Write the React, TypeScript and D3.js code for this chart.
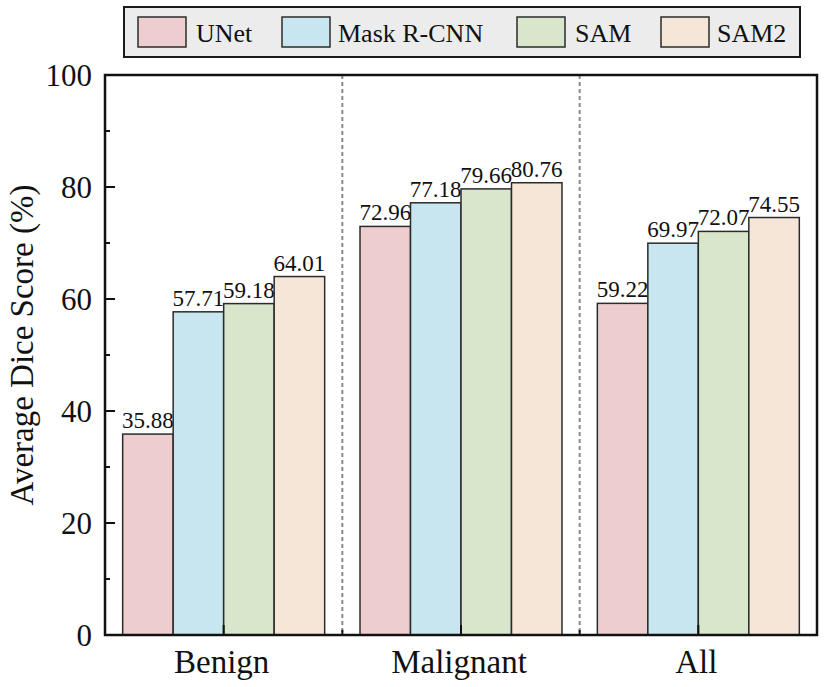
import React from 'react';
import * as d3 from 'd3';

const categories = ['Benign', 'Malignant', 'All'];
const seriesNames = ['UNet', 'Mask R-CNN', 'SAM', 'SAM2'];
const unetValues = [35.88, 72.96, 59.22];
const maskRcnnValues = [57.71, 77.18, 69.97];
const samValues = [59.18, 79.66, 72.07];
const sam2Values = [64.01, 80.76, 74.55];
const yTicks = [0, 20, 40, 60, 80, 100];
const yMinorTicks = [10, 30, 50, 70, 90];

const seriesValues = [unetValues, maskRcnnValues, samValues, sam2Values];
const colors = ['#EECDCE', '#C7E6EF', '#D8E6CC', '#F6E6D7'];

const FONT = "'Liberation Serif', 'Times New Roman', serif";

const App: React.FC = () => {
  const width = 830;
  const height = 687;
  const left = 105;
  const right = 817;
  const top = 75;
  const bottom = 635;

  const x0 = d3.scaleBand<string>().domain(categories).range([left, right]);
  const x1 = d3
    .scaleBand<string>()
    .domain(seriesNames)
    .range([0, x0.bandwidth()])
    .paddingOuter(0.35);
  const y = d3.scaleLinear().domain([0, 100]).range([bottom, top]);

  // legend layout
  const legendItems = [
    { swatch: 138, text: 196 },
    { swatch: 282, text: 338 },
    { swatch: 517, text: 575 },
    { swatch: 661, text: 717 },
  ];

  return (
    <svg
      width={width}
      height={height}
      style={{ position: 'absolute', left: 0, top: 0, background: '#fff', fontFamily: FONT }}
    >
      {/* dividers */}
      {categories.slice(1).map((c) => (
        <line
          key={c}
          x1={x0(c)}
          x2={x0(c)}
          y1={top}
          y2={bottom}
          stroke="#8a8a8a"
          strokeWidth={2}
          strokeDasharray="4,3"
        />
      ))}

      {/* bars */}
      {categories.map((c, ci) => (
        <g key={c} transform={`translate(${x0(c)},0)`}>
          {seriesNames.map((s, si) => {
            const v = seriesValues[si][ci];
            const bx = x1(s)!;
            return (
              <g key={s}>
                <rect
                  x={bx}
                  y={y(v)}
                  width={x1.bandwidth()}
                  height={bottom - y(v)}
                  fill={colors[si]}
                  stroke="#2b2b2b"
                  strokeWidth={1.5}
                />
                <text
                  x={bx + x1.bandwidth() / 2}
                  y={y(v) - 6}
                  textAnchor="middle"
                  fontSize={23}
                  fill="#111"
                >
                  {v.toFixed(2)}
                </text>
              </g>
            );
          })}
        </g>
      ))}

      {/* frame */}
      <rect
        x={left}
        y={top}
        width={right - left}
        height={bottom - top}
        fill="none"
        stroke="#111"
        strokeWidth={2.5}
      />

      {/* y ticks */}
      {yTicks.map((t) => (
        <g key={t}>
          <line x1={left} x2={left + 10} y1={y(t)} y2={y(t)} stroke="#111" strokeWidth={2} />
          <text x={left - 13} y={y(t) + 11} textAnchor="end" fontSize={31} fill="#111">
            {t}
          </text>
        </g>
      ))}
      {yMinorTicks.map((t) => (
        <line key={t} x1={left} x2={left + 5} y1={y(t)} y2={y(t)} stroke="#111" strokeWidth={2} />
      ))}

      {/* x ticks */}
      {categories.map((c) => {
        const cx = x0(c)! + x0.bandwidth() / 2;
        return (
          <g key={c}>
            <line x1={cx} x2={cx} y1={bottom} y2={bottom - 10} stroke="#111" strokeWidth={2} />
            <text x={cx - 2} y={673} textAnchor="middle" fontSize={33} fill="#111">
              {c}
            </text>
          </g>
        );
      })}
      {categories.slice(1).map((c) => (
        <line key={c} x1={x0(c)} x2={x0(c)} y1={bottom} y2={bottom - 5} stroke="#111" strokeWidth={2} />
      ))}

      {/* y title */}
      <text
        transform={`translate(33,${(top + bottom) / 2 - 10}) rotate(-90)`}
        textAnchor="middle"
        fontSize={33}
        fill="#111"
      >
        Average Dice Score (%)
      </text>

      {/* legend */}
      <rect x={124} y={7} width={676} height={50} fill="#ECECEC" stroke="#1a1a1a" strokeWidth={2} />
      {seriesNames.map((s, i) => (
        <g key={s}>
          <rect
            x={legendItems[i].swatch}
            y={17}
            width={48}
            height={30}
            fill={colors[i]}
            stroke="#2b2b2b"
            strokeWidth={1.5}
          />
          <text x={legendItems[i].text} y={42} fontSize={26} fill="#111">
            {s}
          </text>
        </g>
      ))}
    </svg>
  );
};

export default App;
